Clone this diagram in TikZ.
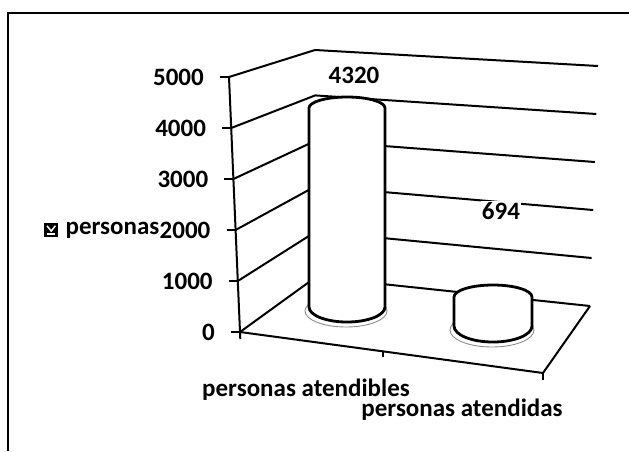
\documentclass[tikz,border=0pt]{standalone}
\usepackage{fontspec}
\setmainfont{Carlito}
\usetikzlibrary{calc}
\colorlet{wall line}{black}
\colorlet{bar edge}{black}
\colorlet{bar shadow}{black!45}
\tikzset{gridline/.style={draw=wall line, line width=2pt},
    barbody/.style={fill=white, draw=bar edge, line width=2.8pt},
    barshadow/.style={draw=bar shadow, line width=0.9pt},
    chartlabel/.style={font=\fontsize{25}{30}\selectfont\bfseries, inner sep=0pt}}

\begin{document}
\begin{tikzpicture}[x=1pt, y=-1pt]
    \useasboundingbox (0,0) rectangle (629,451);
    % frame
    \draw[line width=2pt] (8,451) -- (8,13) -- (629,13);
    % walls and value axis
    \foreach \v in {0,...,5} {
        \coordinate (a\v) at ({240-2.2*\v},{332-51*\v});
        \coordinate (c\v) at ({316-0.2*\v},{277-45.4*\v});
        \coordinate (r\v) at ({590+1.6*\v},{306-48*\v});
        \draw[gridline] (a\v) -- (c\v) -- (r\v);
        \draw[gridline] (a\v) -- ++(-9,0);
        \pgfmathtruncatemacro\val{1000*\v}
        \node[chartlabel, anchor=east] (t\v) at ($(a\v)+(-25,0)$) {\val};
    }
    \draw[gridline] ($(a0)+(0.3,7)$) -- (a5);
    % floor
    \coordinate (f1) at (543,373);
    \coordinate (fm) at ($(a0)!0.472!(f1)$);
    \draw[gridline] (a0) -- (f1) -- (r0);
    \draw[gridline] (fm) -- ++(0,6);
    \draw[gridline] (f1) -- ++(0,7);
    % bars
    \draw[barshadow] (346,311) ellipse (41 and 16);
    \path[barbody] (309,108) -- (309,307)
        arc[start angle=180, end angle=0, x radius=38, y radius=15]
        -- (385,108) arc[start angle=0, end angle=-180, x radius=38, y radius=11] -- cycle;
    \draw[barshadow] (492,330) ellipse (42 and 17);
    \path[barbody] (454,297) -- (454,326)
        arc[start angle=180, end angle=0, x radius=39, y radius=16]
        -- (532,297) arc[start angle=0, end angle=-180, x radius=39, y radius=12] -- cycle;
    % values
    \node[chartlabel] (v1) at (354,75) {4320};
    \node[chartlabel, fill=white, inner sep=1pt] (v2) at (501,211) {694};
    % categories
    \node[chartlabel] (k1) at (306,390) {personas atendibles};
    \node[chartlabel] (k2) at (462,410) {personas atendidas};
    % legend
    \node[chartlabel, anchor=east] (leg) at (t2.west) {personas};
    \node[fill=black, minimum size=14pt, inner sep=0pt, anchor=east] (legkey) at ($(leg.west)+(-7,0)$) {};
    \draw[white, line width=1.5pt] ($(legkey.north west)+(3,3)$) -- ($(legkey.center)+(0,1)$) -- ($(legkey.north east)+(-3,3)$);
    \draw[white, line width=1.5pt] ($(legkey.south west)+(3,-3)$) -- ($(legkey.south east)+(-3,-3)$);
\end{tikzpicture}
\end{document}
